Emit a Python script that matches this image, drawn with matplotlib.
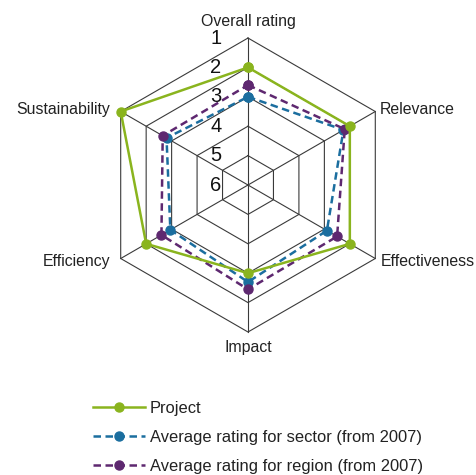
import numpy as np
import matplotlib
matplotlib.use("Agg")
import matplotlib.pyplot as plt
from matplotlib.lines import Line2D
import matplotlib.transforms as mtransforms

plt.rcParams['font.family'] = ['Liberation Sans', 'DejaVu Sans']

categories = ["Overall rating", "Relevance", "Effectiveness", "Impact", "Efficiency", "Sustainability"]
project = [2.0, 2.0, 2.0, 3.0, 2.0, 1.0]
sector = [3.0, 2.25, 2.9, 2.7, 2.95, 2.8]
region = [2.6, 2.2, 2.5, 2.45, 2.6, 2.65]
levels = [1, 2, 3, 4, 5, 6]
series_names = ["Project", "Average rating for sector (from 2007)", "Average rating for region (from 2007)"]

green = "#8AB41E"
blue = "#1B6E9F"
purple = "#5E2870"
gridc = "#3a3a3a"

fig = plt.figure(figsize=(4.76, 4.75), dpi=100)
ax = fig.add_axes([0.2122, 0.301, 0.6176, 0.619], projection='polar')
ax.set_theta_offset(np.pi / 2)
ax.set_theta_direction(-1)
ax.set_ylim(6, 1)
ax.grid(False)
ax.spines['polar'].set_visible(False)
ax.set_xticks([])
ax.set_yticks([])
ax.patch.set_visible(False)

n = len(categories)
theta = np.arange(n) * 2 * np.pi / n
theta_c = np.append(theta, theta[0])

# rings
for lv in levels[:-1]:
    ax.plot(theta_c, [lv] * (n + 1), color=gridc, lw=0.8, clip_on=False, zorder=1)
# spokes
for t in theta:
    ax.plot([t, t], [6, 1], color=gridc, lw=0.8, clip_on=False, zorder=1)

def closed(v):
    return list(v) + [v[0]]

ax.plot(theta_c, closed(sector), color=blue, lw=1.8, ls=(0, (3, 1.8)), marker='o', ms=6.5, clip_on=False, zorder=3)
ax.plot(theta_c, closed(region), color=purple, lw=1.8, ls=(0, (3, 1.8)), marker='o', ms=6.5, clip_on=False, zorder=4)
ax.plot(theta_c, closed(project), color=green, lw=1.8, marker='o', ms=6.5, clip_on=False, zorder=5)

# level labels
for lv in levels:
    tr = ax.transData + mtransforms.ScaledTranslation(-19 / 72, 0, fig.dpi_scale_trans)
    ax.text(0, lv, str(lv), transform=tr, ha='right', va='center', fontsize=14.5, color='#111111')

# category labels
offsets = [(0, 12, 'center', 'center'),
           (3.5, 1.5, 'left', 'center'),
           (4, -2.5, 'left', 'center'),
           (0, -11.5, 'center', 'center'),
           (-7.5, -2.5, 'right', 'center'),
           (-7.5, 1.5, 'right', 'center')]
for t, lab, (dx, dy, ha, va) in zip(theta, categories, offsets):
    tr = ax.transData + mtransforms.ScaledTranslation(dx / 72, dy / 72, fig.dpi_scale_trans)
    ax.text(t, 1, lab, transform=tr, ha=ha, va=va, fontsize=11.4, color='#222222')

handles = [
    Line2D([], [], color=green, lw=1.8, marker='o', ms=6.5),
    Line2D([], [], color=blue, lw=1.8, ls=(0, (3, 1.8)), marker='o', ms=6.5),
    Line2D([], [], color=purple, lw=1.8, ls=(0, (3, 1.8)), marker='o', ms=6.5),
]
leg = fig.legend(handles, series_names, loc='upper left', bbox_to_anchor=(93 / 476, 1 - 400.5 / 475),
                 frameon=False, fontsize=11.9, handlelength=3.15, handletextpad=0.28,
                 labelspacing=0.86, borderpad=0, borderaxespad=0)
for txt in leg.get_texts():
    txt.set_color('#222222')

fig.savefig("out.png", dpi=100)
